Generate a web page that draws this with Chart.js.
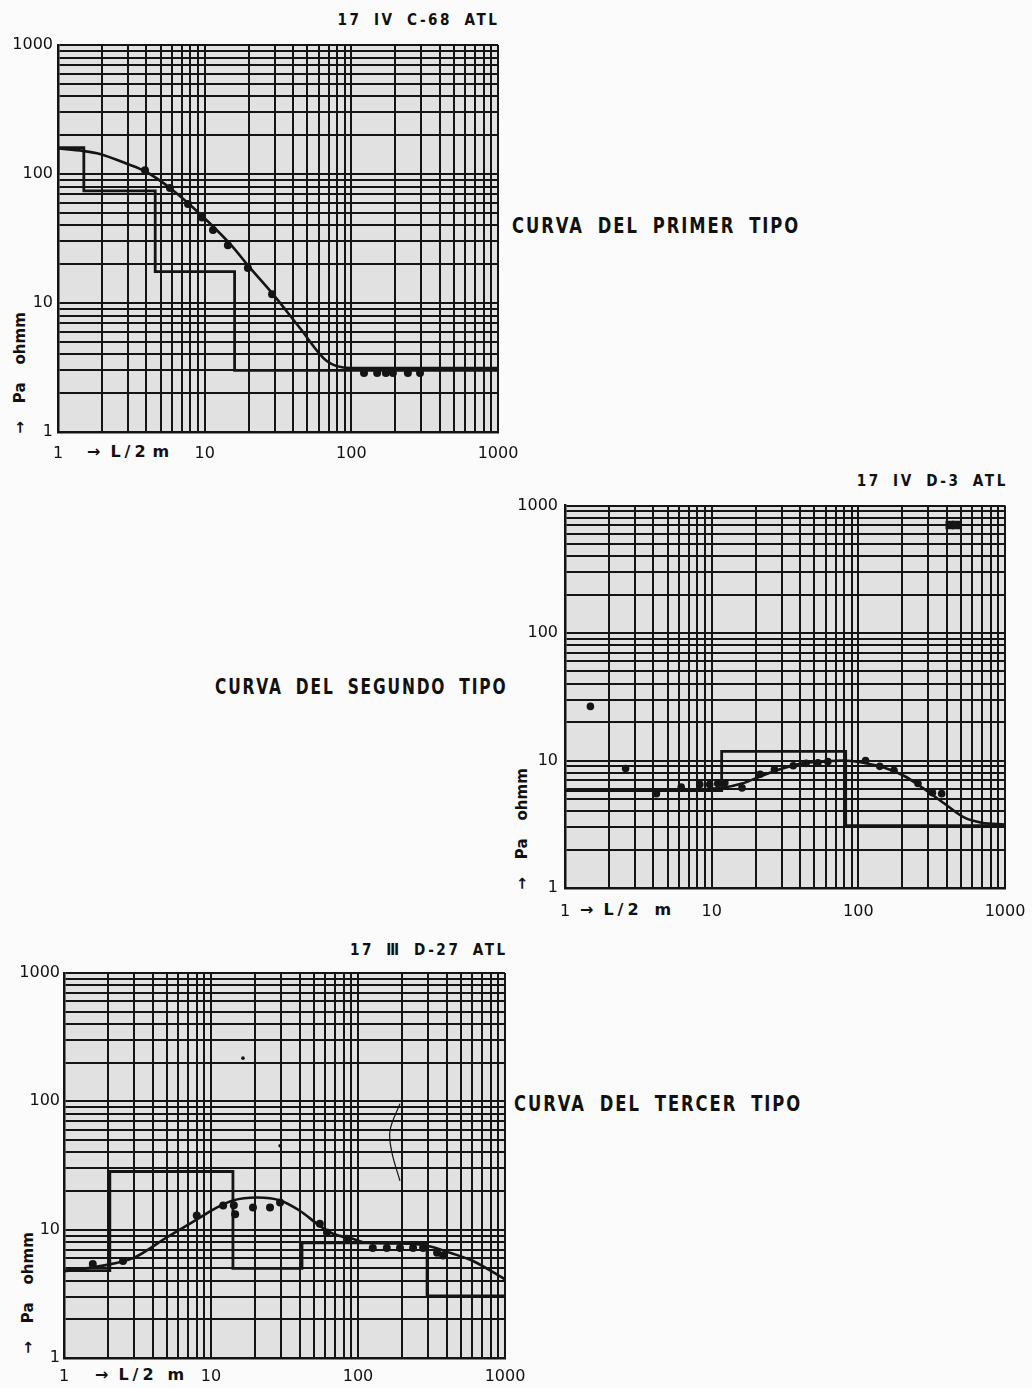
<!DOCTYPE html>
<html lang="es">
<head>
<meta charset="utf-8">
<title>Curvas de resistividad</title>
<script src="https://cdn.jsdelivr.net/npm/chart.js@4.4.1/dist/chart.umd.min.js"></script>
<style>
  html, body { margin: 0; padding: 0; background: #fbfbfb; }
  body { width: 1032px; height: 1388px; position: relative; overflow: hidden; font-family: "DejaVu Sans", sans-serif; color: #111; }
  canvas { position: absolute; }
  .lbl { position: absolute; white-space: nowrap; line-height: 1; }
  .titulo { font-weight: bold; font-size: 16px; letter-spacing: 3px; word-spacing: 6px; transform: scaleX(0.85); transform-origin: right center; }
  .tipo { font-weight: bold; font-size: 21px; letter-spacing: 2.5px; word-spacing: 8px; transform: scaleX(0.78); transform-origin: left center; }
  .eje { font-size: 16px; font-weight: bold; }
  .rot { font-size: 15px; font-weight: bold; transform: translate(-50%, -50%) rotate(-90deg); }
</style>
</head>
<body>

<div class="lbl titulo" style="right:532px; top:12px;">17 IV C-68 ATL</div>
<div class="lbl tipo" style="left:512px; top:216px;">CURVA DEL PRIMER TIPO</div>
<div class="lbl eje" style="left:87px; top:444px;">→<span style="margin-left:10px; letter-spacing:4px;">L/2</span><span style="margin-left:3px;">m</span></div>
<div class="lbl rot" style="left:20px; top:373px;">→<span style="margin-left:18px;">Pa</span><span style="margin-left:18px;">ohmm</span></div>
<canvas id="c1" width="534" height="446" style="left:0px; top:29px;"></canvas>

<div class="lbl titulo" style="right:24px; top:473px;">17 IV D-3 ATL</div>
<div class="lbl tipo" style="left:215px; top:677px; transform: scaleX(0.735);">CURVA DEL SEGUNDO TIPO</div>
<div class="lbl eje" style="left:580px; top:902px;">→<span style="margin-left:10px; letter-spacing:4px;">L/2</span><span style="margin-left:12px;">m</span></div>
<div class="lbl rot" style="left:522px; top:829px;">→<span style="margin-left:18px;">Pa</span><span style="margin-left:18px;">ohmm</span></div>
<canvas id="c2" width="538" height="436" style="left:505px; top:489px;"></canvas>

<div class="lbl titulo" style="right:524px; top:942px;">17 Ⅲ D-27 ATL</div>
<div class="lbl tipo" style="left:514px; top:1094px;">CURVA DEL TERCER TIPO</div>
<div class="lbl eje" style="left:95px; top:1367px;">→<span style="margin-left:10px; letter-spacing:4px;">L/2</span><span style="margin-left:10px;">m</span></div>
<div class="lbl rot" style="left:28px; top:1293px;">→<span style="margin-left:18px;">Pa</span><span style="margin-left:18px;">ohmm</span></div>
<canvas id="c3" width="539" height="431" style="left:0px; top:957px;"></canvas>

<script>
// malla del papel bilogaritmico
const gridValues = [1, 2, 3, 4, 5, 6, 7, 8, 9, 10, 20, 30, 40, 50, 60, 70, 80, 90,
  100, 200, 300, 400, 500, 600, 700, 800, 900, 1000];
const tickLabels = [1, 10, 100, 1000];

// 17 IV C-68 ATL
const modelX1 = [1, 1, 1.5, 1.5, 4.6, 4.6, 16, 16, 1000];
const modelY1 = [100, 160, 160, 74, 74, 17.5, 17.5, 3.0, 3.0];
const curveX1 = [1, 1.48, 1.93, 2.95, 3.92, 5.8, 9.3, 14.9, 20.4, 29.2, 44.6, 68, 98, 1000];
const curveY1 = [158, 151, 143, 120, 105, 78, 49, 28.7, 18.7, 11.7, 6.4, 3.55, 3.13, 3.13];
const obsX1 = [3.92, 5.8, 7.7, 9.6, 11.4, 14.4, 19.7, 28.8, 122, 150, 172, 192, 243, 294];
const obsY1 = [107, 78, 58.5, 46, 36.8, 28, 18.7, 11.7, 2.87, 2.87, 2.87, 2.87, 2.87, 2.87];

// 17 IV D-3 ATL
const modelX2 = [1, 11.7, 11.7, 82, 82, 1000];
const modelY2 = [5.8, 5.8, 11.8, 11.8, 3.08, 3.08];
const curveX2 = [1, 5, 11.7, 16.1, 22.1, 30.4, 41.8, 57.4, 78.8, 108, 149, 204, 281, 386, 530, 693, 1000];
const curveY2 = [5.8, 5.85, 6.1, 6.6, 7.6, 8.65, 9.5, 9.8, 10, 9.6, 8.8, 7.6, 6.0, 4.6, 3.56, 3.25, 3.15];
const obsX2 = [1.49, 2.59, 4.2, 6.2, 8.3, 9.7, 11, 12.3, 16.1, 21.4, 26.8, 36, 44, 53, 62, 112, 140, 175, 255, 320, 370];
const obsY2 = [26.6, 8.65, 5.5, 6.2, 6.5, 6.5, 6.6, 6.7, 6.1, 7.8, 8.5, 9.1, 9.5, 9.6, 9.8, 10, 9.0, 8.4, 6.6, 5.6, 5.5];
const blockX2 = [420, 465];
const blockY2 = [705, 705];

// 17 III D-27 ATL
const modelX3 = [1, 2.05, 2.05, 14.1, 14.1, 41.6, 41.6, 295, 295, 1000];
const modelY3 = [4.8, 4.8, 28.4, 28.4, 5.0, 5.0, 7.9, 7.9, 3.05, 3.05];
const curveX3 = [1, 1.76, 2.95, 5.0, 8.4, 11, 14.1, 20.6, 29.5, 40, 55, 67.6, 92, 115, 193, 295, 423, 606, 1000];
const curveY3 = [4.75, 5.2, 6.0, 8.7, 12.4, 14.9, 16.9, 17.8, 16.9, 14.1, 10.7, 9.3, 8.5, 7.9, 7.8, 7.5, 6.6, 5.7, 4.1];
const obsX3 = [1.57, 2.52, 8.0, 12.1, 14.3, 14.6, 19.3, 25.2, 29.5, 55, 61.5, 84, 126, 157, 193, 237, 277, 345, 379];
const obsY3 = [5.4, 5.7, 12.9, 15.4, 15.5, 13.2, 14.9, 14.9, 16.3, 11.1, 9.5, 8.5, 7.2, 7.2, 7.2, 7.2, 7.2, 6.6, 6.3];
const strayX3 = [16.5, 29.5];
const strayY3 = [217, 45];
const traceX3 = [193, 165, 170, 193];
const traceY3 = [96, 59, 40, 24];

const INK = "#141414";

function pts(xs, ys) {
  return xs.map((x, i) => ({ x, y: ys[i] }));
}

const paperBg = {
  id: "paperBg",
  beforeDraw(chart) {
    const { ctx, chartArea: a } = chart;
    ctx.save();
    ctx.fillStyle = "#e1e1e1";
    ctx.fillRect(a.left, a.top, a.right - a.left, a.bottom - a.top);
    ctx.restore();
  }
};

function logAxis(pad, size, isX) {
  return {
    type: "logarithmic",
    min: 1,
    max: 1000,
    afterBuildTicks: (scale) => {
      scale.ticks = gridValues.map((v) => ({ value: v }));
    },
    afterFit: (scale) => {
      if (isX) scale.height = size; else scale.width = size;
    },
    grid: { color: INK, lineWidth: 2, drawTicks: false },
    border: { display: true, color: INK, width: 2.5 },
    ticks: {
      autoSkip: false,
      maxRotation: 0,
      minRotation: 0,
      padding: pad,
      color: "#111",
      font: { family: "DejaVu Sans", size: 16 },
      callback: (value) => (tickLabels.includes(value) ? String(value) : "")
    }
  };
}

function lineSet(data, width, extra) {
  return Object.assign({
    data,
    borderColor: INK,
    borderWidth: width,
    pointRadius: 0,
    fill: false,
    tension: 0
  }, extra || {});
}

function dotSet(data, radius, style) {
  return {
    data,
    showLine: false,
    pointRadius: radius,
    pointStyle: style || "circle",
    pointBackgroundColor: INK,
    pointBorderColor: INK,
    pointBorderWidth: 0
  };
}

function makeChart(id, datasets, layout) {
  return new Chart(document.getElementById(id), {
    type: "line",
    data: { datasets },
    options: {
      responsive: false,
      animation: false,
      events: [],
      layout: { padding: { top: layout.top, right: layout.right, left: 0, bottom: 0 } },
      plugins: { legend: { display: false }, tooltip: { enabled: false } },
      scales: {
        x: logAxis(layout.xPad, layout.xHeight, true),
        y: logAxis(layout.yPad, layout.yWidth, false)
      }
    },
    plugins: [paperBg]
  });
}

makeChart("c1", [
  lineSet(pts(modelX1, modelY1), 2.8),
  lineSet(pts(curveX1, curveY1), 2.6, { cubicInterpolationMode: "monotone" }),
  dotSet(pts(obsX1, obsY1), 4)
], { top: 16, right: 36, yWidth: 58, xHeight: 43, xPad: 12, yPad: 5 });

makeChart("c2", [
  lineSet(pts(modelX2, modelY2), 2.8),
  lineSet(pts(curveX2, curveY2), 2.6, { cubicInterpolationMode: "monotone" }),
  dotSet(pts(obsX2, obsY2), 3.8),
  dotSet(pts(blockX2, blockY2), 6, "rect")
], { top: 16, right: 38, yWidth: 60, xHeight: 37, xPad: 14, yPad: 7 });

makeChart("c3", [
  lineSet(pts(modelX3, modelY3), 2.8),
  lineSet(pts(curveX3, curveY3), 2.6, { cubicInterpolationMode: "monotone" }),
  dotSet(pts(obsX3, obsY3), 4),
  dotSet(pts(strayX3, strayY3), 1.8),
  lineSet(pts(traceX3, traceY3), 1.2, { tension: 0.35 })
], { top: 16, right: 34, yWidth: 64, xHeight: 30, xPad: 9, yPad: 4 });
</script>
</body>
</html>
